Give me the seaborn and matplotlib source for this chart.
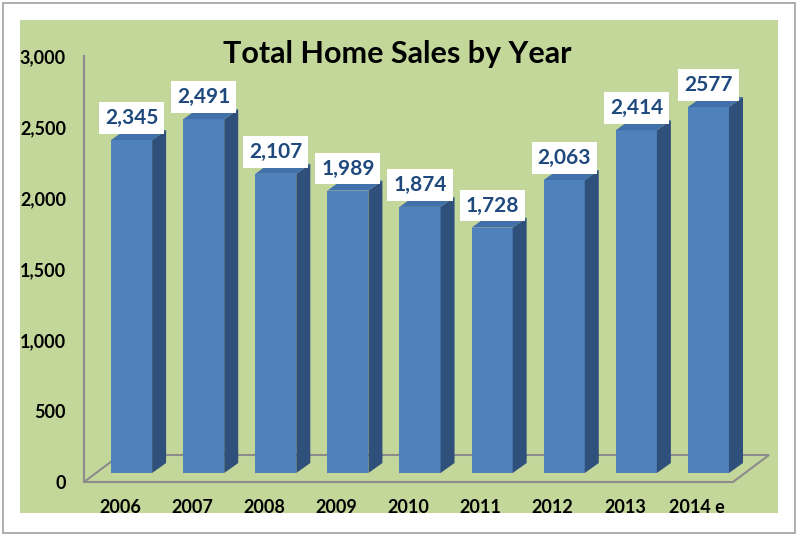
import numpy as np
import pandas as pd
import seaborn as sns
import matplotlib.pyplot as plt
from matplotlib.patches import Rectangle, Polygon
from matplotlib.transforms import ScaledTranslation

# data
years = ["2006", "2007", "2008", "2009", "2010", "2011", "2012", "2013", "2014 e"]
sales = [2345, 2491, 2107, 1989, 1874, 1728, 2063, 2414, 2577]
sales_labels = ["2,345", "2,491", "2,107", "1,989", "1,874", "1,728", "2,063", "2,414", "2577"]
yticks = [0, 500, 1000, 1500, 2000, 2500, 3000]
ytick_labels = ["0", "500", "1,000", "1,500", "2,000", "2,500", "3,000"]

FRONT = "#4f81bd"
SIDE = "#30507c"
TOP = "#4170aa"
GREEN = "#c4d79b"
LABEL_BLUE = "#1f497d"

sns.set_style("white")
plt.rcParams['font.family'] = ['Lato', 'DejaVu Sans']

W, H = 799, 536
fig = plt.figure(figsize=(W / 100, H / 100), dpi=100)
fig.patch.set_facecolor("white")

# chart frame + green chart area (behind the axes)
fig.add_artist(Rectangle((3 / W, 3 / H), 792 / W, 530 / H, transform=fig.transFigure,
                         fill=False, edgecolor="#a0a0a0", lw=1.2, zorder=-2))
fig.add_artist(Rectangle((20 / W, (H - 513) / H), 758 / W, 493 / H, transform=fig.transFigure,
                         facecolor=GREEN, edgecolor="none", zorder=-1))

ax = fig.add_axes([84 / W, (H - 482) / H, (733 - 84) / W, (482 - 56) / H])
ax.patch.set_alpha(0)

df = pd.DataFrame({"year": years, "sales": sales})
sns.barplot(data=df, x="year", y="sales", color=FRONT, saturation=1, width=0.57,
            errorbar=None, linewidth=0, ax=ax, zorder=3)
ax.set_xlim(-0.5, 8.5)
ax.set_ylim(0, 3000)

# pixel -> data scales
px_x = (733 - 84) / 9.0
px_y = (482 - 56) / 3000.0

# bars sit a bit behind the front edge of the floor
shift = ScaledTranslation(11.5 / 100, 9 / 100, fig.dpi_scale_trans)
tr = ax.transData + shift

# floor
fdx, fdy = 36 / px_x, 27 / px_y
floor = Polygon([(-0.5, 0), (8.5, 0), (8.5 + fdx, fdy), (-0.5 + fdx, fdy)], closed=True,
                fill=False, edgecolor="#8c8c8c", lw=1.5, clip_on=False, zorder=1,
                transform=ax.transData)
ax.add_patch(floor)

# 3d sides and tops
ddx, ddy = 14 / px_x, 10 / px_y
bars = list(ax.patches[:len(sales)])
for p in bars:
    p.set_transform(tr)
    p.set_clip_on(False)
    p.set_linewidth(0)
    x0 = p.get_x()
    x1 = x0 + p.get_width()
    h = p.get_height()
    side = Polygon([(x1, 0), (x1 + ddx, ddy), (x1 + ddx, h + ddy), (x1, h)], closed=True,
                   facecolor=SIDE, edgecolor="none", transform=tr, clip_on=False, zorder=3)
    top = Polygon([(x0, h), (x1, h), (x1 + ddx, h + ddy), (x0 + ddx, h + ddy)], closed=True,
                  facecolor=TOP, edgecolor="none", transform=tr, clip_on=False, zorder=3)
    ax.add_patch(side)
    ax.add_patch(top)

# value labels
for p, txt in zip(bars, sales_labels):
    cx = p.get_x() + p.get_width() / 2
    ax.annotate(txt, xy=(cx, p.get_height()), xytext=(11.5 * 0.72, 31 * 0.72),
                textcoords="offset points", ha="center", va="center",
                fontsize=15, fontweight="bold", color=LABEL_BLUE, zorder=5,
                bbox=dict(boxstyle="square,pad=0.28", fc="white", ec="none"))

# axes styling
for s in ["top", "right", "bottom"]:
    ax.spines[s].set_visible(False)
ax.spines["left"].set_color("#8c8c8c")
ax.spines["left"].set_linewidth(1.5)
ax.set_yticks(yticks, ytick_labels)
ax.tick_params(axis="both", length=0, labelsize=13, labelcolor="black")
ax.tick_params(axis="y", pad=13)
ax.tick_params(axis="x", pad=12)
for lab in ax.get_xticklabels() + ax.get_yticklabels():
    lab.set_fontweight("bold")
ax.set_xlabel("")
ax.set_ylabel("")

fig.text(397 / W, 1 - 54 / H, "Total Home Sales by Year", ha="center", va="center",
         fontsize=22, fontweight="bold", color="black")

fig.savefig("out.png", dpi=100, facecolor="white")
